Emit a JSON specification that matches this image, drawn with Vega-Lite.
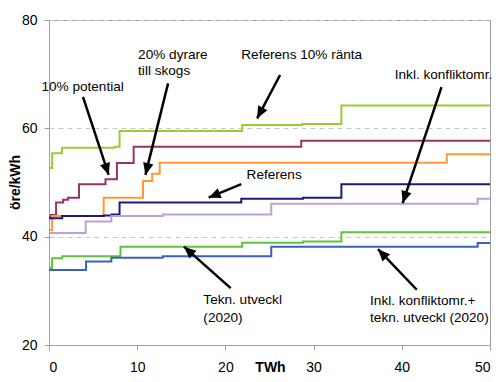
{
  "$schema": "https://vega.github.io/schema/vega-lite/v6.json",
  "width": 441,
  "height": 325,
  "autosize": "none",
  "padding": {"left": 49, "top": 20, "right": 10, "bottom": 37},
  "config": {
    "view": {"stroke": "#a0a0a0", "strokeWidth": 1},
    "font": "Liberation Sans",
    "axis": {
      "labelFont": "Liberation Sans",
      "labelFontSize": 14,
      "labelColor": "#000",
      "titleFont": "Liberation Sans",
      "titleFontSize": 14,
      "titleFontWeight": "bold",
      "titleColor": "#000",
      "domainColor": "#a0a0a0",
      "tickColor": "#a0a0a0",
      "tickSize": 5
    },
    "axisX": {"grid": false, "labelPadding": 10, "titleX": 221, "titleY": 22, "titleBaseline": "middle", "titleAlign": "center"},
    "axisY": {"grid": true, "gridDash": [5, 4], "gridColor": "#c8c8c8", "labelPadding": 7, "titleX": -34, "titleY": 162, "titleAngle": -90, "titleBaseline": "middle", "titleAlign": "center"}
  },
  "layer": [
    {
      "data": {"values": [
        {"s": "Referens 10% ränta", "x": 0, "y": 52.7},
        {"s": "Referens 10% ränta", "x": 0.35, "y": 55.4},
        {"s": "Referens 10% ränta", "x": 1.47, "y": 56.4},
        {"s": "Referens 10% ränta", "x": 7.45, "y": 56.6},
        {"s": "Referens 10% ränta", "x": 8.0, "y": 59.5},
        {"s": "Referens 10% ränta", "x": 21.9, "y": 60.6},
        {"s": "Referens 10% ränta", "x": 28.7, "y": 60.8},
        {"s": "Referens 10% ränta", "x": 33.15, "y": 64.2},
        {"s": "Referens 10% ränta", "x": 50, "y": 64.2},
        {"s": "10% potential", "x": 0, "y": 43.6},
        {"s": "10% potential", "x": 0.2, "y": 44.0},
        {"s": "10% potential", "x": 0.8, "y": 46.3},
        {"s": "10% potential", "x": 1.6, "y": 46.8},
        {"s": "10% potential", "x": 2.15, "y": 47.2},
        {"s": "10% potential", "x": 3.4, "y": 49.7},
        {"s": "10% potential", "x": 6.4, "y": 50.6},
        {"s": "10% potential", "x": 7.7, "y": 53.6},
        {"s": "10% potential", "x": 9.6, "y": 56.6},
        {"s": "10% potential", "x": 28.6, "y": 57.7},
        {"s": "10% potential", "x": 50, "y": 57.7},
        {"s": "20% dyrare", "x": 0, "y": 41.2},
        {"s": "20% dyrare", "x": 0.35, "y": 43.8},
        {"s": "20% dyrare", "x": 6.2, "y": 47.2},
        {"s": "20% dyrare", "x": 10.66, "y": 50.3},
        {"s": "20% dyrare", "x": 11.7, "y": 51.6},
        {"s": "20% dyrare", "x": 12.55, "y": 53.65},
        {"s": "20% dyrare", "x": 45.1, "y": 55.2},
        {"s": "20% dyrare", "x": 50, "y": 55.2},
        {"s": "Referens", "x": 0, "y": 43.4},
        {"s": "Referens", "x": 1.5, "y": 43.8},
        {"s": "Referens", "x": 6.2, "y": 43.9},
        {"s": "Referens", "x": 7.1, "y": 44.1},
        {"s": "Referens", "x": 8.0, "y": 46.3},
        {"s": "Referens", "x": 21.8, "y": 47.0},
        {"s": "Referens", "x": 28.8, "y": 47.2},
        {"s": "Referens", "x": 33.15, "y": 49.7},
        {"s": "Referens", "x": 50, "y": 49.7},
        {"s": "Inkl. konfliktomr.", "x": 0, "y": 40.7},
        {"s": "Inkl. konfliktomr.", "x": 4.16, "y": 42.8},
        {"s": "Inkl. konfliktomr.", "x": 7.07, "y": 43.8},
        {"s": "Inkl. konfliktomr.", "x": 12.9, "y": 44.1},
        {"s": "Inkl. konfliktomr.", "x": 25.2, "y": 46.1},
        {"s": "Inkl. konfliktomr.", "x": 48.6, "y": 47.0},
        {"s": "Inkl. konfliktomr.", "x": 50, "y": 47.0},
        {"s": "Tekn. utveckl (2020)", "x": 0, "y": 34.2},
        {"s": "Tekn. utveckl (2020)", "x": 0.35, "y": 36.0},
        {"s": "Tekn. utveckl (2020)", "x": 1.5, "y": 36.4},
        {"s": "Tekn. utveckl (2020)", "x": 8.1, "y": 38.15},
        {"s": "Tekn. utveckl (2020)", "x": 21.9, "y": 38.9},
        {"s": "Tekn. utveckl (2020)", "x": 28.8, "y": 39.1},
        {"s": "Tekn. utveckl (2020)", "x": 33.15, "y": 40.8},
        {"s": "Tekn. utveckl (2020)", "x": 50, "y": 40.8},
        {"s": "Inkl. konfliktomr.+ tekn. utveckl (2020)", "x": 0, "y": 33.85},
        {"s": "Inkl. konfliktomr.+ tekn. utveckl (2020)", "x": 4.2, "y": 35.4},
        {"s": "Inkl. konfliktomr.+ tekn. utveckl (2020)", "x": 7.07, "y": 36.1},
        {"s": "Inkl. konfliktomr.+ tekn. utveckl (2020)", "x": 12.9, "y": 36.4},
        {"s": "Inkl. konfliktomr.+ tekn. utveckl (2020)", "x": 25.2, "y": 38.15},
        {"s": "Inkl. konfliktomr.+ tekn. utveckl (2020)", "x": 48.6, "y": 38.85},
        {"s": "Inkl. konfliktomr.+ tekn. utveckl (2020)", "x": 50, "y": 38.85}
      ]},
      "mark": {"type": "line", "interpolate": "step-after", "strokeWidth": 2},
      "encoding": {
        "x": {"field": "x", "type": "quantitative", "title": "TWh", "scale": {"domain": [0, 50], "nice": false}, "axis": {"values": [0, 10, 20, 30, 40, 50]}},
        "y": {"field": "y", "type": "quantitative", "title": "öre/kWh", "scale": {"domain": [20, 80], "nice": false, "zero": false}, "axis": {"values": [20, 40, 60, 80]}},
        "color": {"field": "s", "type": "nominal", "legend": null, "scale": {
          "domain": ["Referens 10% ränta", "10% potential", "20% dyrare", "Referens", "Inkl. konfliktomr.", "Tekn. utveckl (2020)", "Inkl. konfliktomr.+ tekn. utveckl (2020)"],
          "range": ["#99cc33", "#993366", "#ff9933", "#1a1a80", "#c0a0d8", "#5fc43a", "#3a60c0"]}}
      }
    },
    {
      "data": {"values": [
        {"sx": 3.85, "sy": 65.8, "tx": 6.77, "ty": 51.4},
        {"sx": 13.5, "sy": 68.3, "tx": 10.93, "ty": 51.4},
        {"sx": 26.2, "sy": 69.85, "tx": 23.6, "ty": 61.85},
        {"sx": 44.5, "sy": 67.6, "tx": 40.1, "ty": 46.2},
        {"sx": 21.8, "sy": 49.7, "tx": 18.1, "ty": 47.2},
        {"sx": 20.6, "sy": 30.5, "tx": 15.3, "ty": 38.15},
        {"sx": 41.7, "sy": 30.2, "tx": 37.3, "ty": 37.7}
      ]},
      "layer": [
        {
          "mark": {"type": "rule", "color": "#000", "strokeWidth": 2.5},
          "encoding": {
            "x": {"field": "sx", "type": "quantitative", "title": "TWh", "scale": {"domain": [0, 50], "nice": false}},
            "y": {"field": "sy", "type": "quantitative", "title": "öre/kWh", "scale": {"domain": [20, 80], "nice": false, "zero": false}},
            "x2": {"field": "tx"},
            "y2": {"field": "ty"}
          }
        },
        {
          "transform": [{"calculate": "atan2((datum.tx - datum.sx) * 8.82, (datum.ty - datum.sy) * 5.417) * 180 / PI", "as": "ang"}],
          "mark": {"type": "point", "shape": "M0,0L-0.7,1.6L0.7,1.6Z", "filled": true, "color": "#000", "opacity": 1, "size": 225},
          "encoding": {
            "x": {"field": "tx", "type": "quantitative", "title": "TWh", "scale": {"domain": [0, 50], "nice": false}},
            "y": {"field": "ty", "type": "quantitative", "title": "öre/kWh", "scale": {"domain": [20, 80], "nice": false, "zero": false}},
            "angle": {"field": "ang", "type": "quantitative", "scale": null}
          }
        }
      ]
    },
    {
      "data": {"values": [
        {"x": -0.86, "y": 67.7, "t": "10% potential"},
        {"x": 10.1, "y": 73.5, "t": "20% dyrare"},
        {"x": 10.1, "y": 70.5, "t": "till skogs"},
        {"x": 21.8, "y": 73.5, "t": "Referens 10% ränta"},
        {"x": 39.2, "y": 69.85, "t": "Inkl. konfliktomr."},
        {"x": 22.4, "y": 51.4, "t": "Referens"},
        {"x": 17.5, "y": 28.3, "t": "Tekn. utveckl"},
        {"x": 17.5, "y": 24.9, "t": "(2020)"},
        {"x": 36.4, "y": 28.1, "t": "Inkl. konfliktomr.+"},
        {"x": 36.4, "y": 24.9, "t": "tekn. utveckl (2020)"}
      ]},
      "mark": {"type": "text", "align": "left", "baseline": "middle", "font": "Liberation Sans", "fontSize": 13.6, "color": "#000"},
      "encoding": {
        "x": {"field": "x", "type": "quantitative", "title": "TWh", "scale": {"domain": [0, 50], "nice": false}},
        "y": {"field": "y", "type": "quantitative", "title": "öre/kWh", "scale": {"domain": [20, 80], "nice": false, "zero": false}},
        "text": {"field": "t"}
      }
    }
  ]
}
